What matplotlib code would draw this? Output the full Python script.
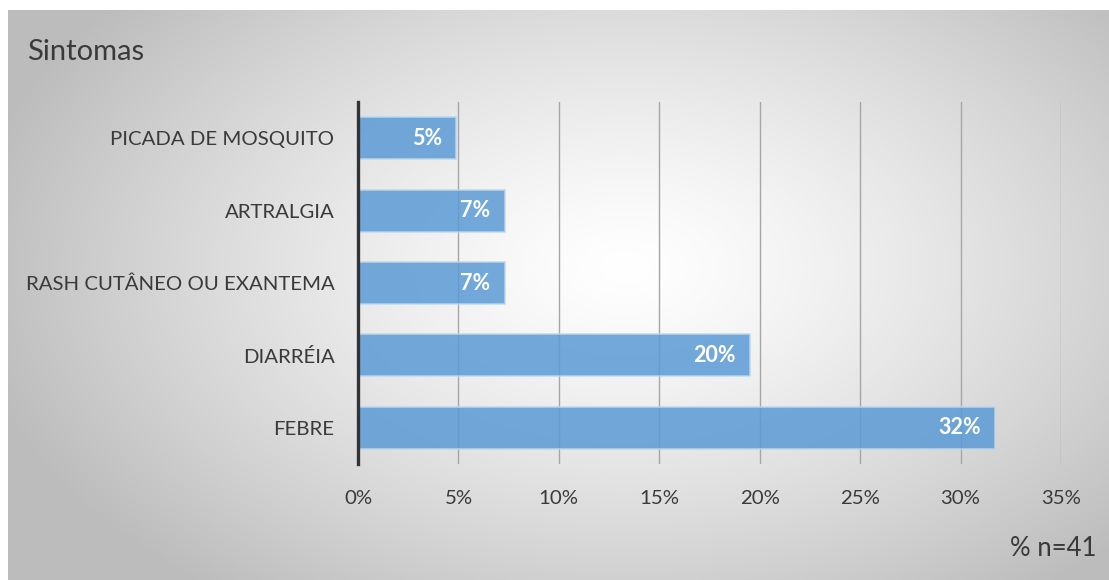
import matplotlib.pyplot as plt
import numpy as np

plt.rcParams['font.family'] = ['Lato', 'DejaVu Sans']

categories = ["FEBRE", "DIARRÉIA", "RASH CUTÂNEO OU EXANTEMA", "ARTRALGIA", "PICADA DE MOSQUITO"]
values = [31.7, 19.5, 7.3, 7.3, 4.9]  # % of n=41
xticks = [0, 5, 10, 15, 20, 25, 30, 35]

text_col = "#3a3a3a"
bar_col = "#5B9BD5"

fig = plt.figure(figsize=(11.09, 5.8), dpi=100)

# radial gradient background panel
bg = fig.add_axes([8 / 1109, 0, 1 - 8 / 1109, 1 - 10 / 580], zorder=0)
ny, nx = 300, 600
yy, xx = np.mgrid[0:ny, 0:nx]
cx, cy = 0.56 * nx, 0.45 * ny
d = np.sqrt(((xx - cx) / (0.6 * nx)) ** 2 + ((yy - cy) / (0.72 * ny)) ** 2)
shade = np.clip(1 - 0.26 * d ** 1.3, 0.74, 1)
bg.imshow(np.dstack([shade] * 3), aspect="auto", extent=[0, 1, 0, 1])
bg.axis("off")

ax = fig.add_axes([358 / 1109, 1 - 464 / 580, (1061 - 358) / 1109, (464 - 102) / 580], zorder=1)
ax.patch.set_alpha(0)

y = np.arange(len(categories))
bars = ax.barh(y, values, height=0.58, color=bar_col, alpha=0.85,
               edgecolor="#BDD7EE", linewidth=1.2, zorder=3)
for b, v in zip(bars, values):
    ax.text(v - 0.7, b.get_y() + b.get_height() / 2, f"{round(v)}%",
            ha="right", va="center", color="white", fontsize=15.5,
            fontweight="bold", zorder=4)

ax.set_xlim(0, 35)
ax.set_ylim(-0.5, 4.5)
ax.set_xticks(xticks)
ax.set_xticklabels([f"{t}%" for t in xticks])
ax.set_yticks(y)
ax.set_yticklabels(categories)
ax.tick_params(axis="x", length=0, pad=19, labelsize=14.7, labelcolor=text_col)
ax.tick_params(axis="y", length=0, pad=17, labelsize=14.7, labelcolor=text_col)
ax.grid(axis="x", color="#A6A6A6", linewidth=1, zorder=1)
ax.set_axisbelow(True)
for s in ["top", "right", "bottom"]:
    ax.spines[s].set_visible(False)
ax.spines["left"].set_color("#333333")
ax.spines["left"].set_linewidth(2.4)
ax.spines["left"].set_zorder(5)

fig.text(27 / 1109, 1 - 52 / 580, "Sintomas", fontsize=21, color=text_col,
         ha="left", va="center")
fig.text(1097 / 1109, 1 - 548 / 580, "% n=41", fontsize=18.5, color=text_col,
         ha="right", va="center")

fig.savefig("out.png", dpi=100)
